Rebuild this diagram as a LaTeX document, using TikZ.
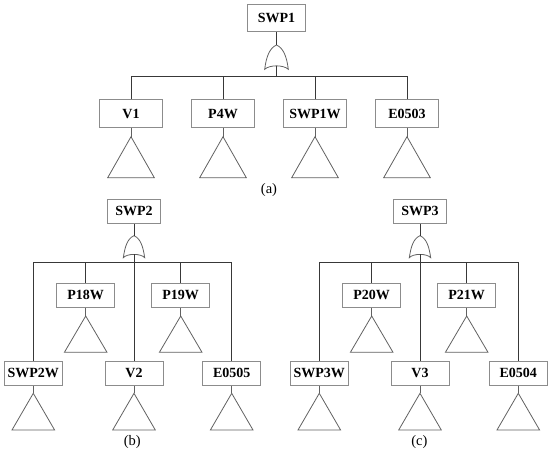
\documentclass[tikz,border=0pt]{standalone}
\usepackage{fontspec}
\setmainfont{Liberation Serif}
\tikzset{
  x=1pt,y=-1pt,
  wire/.style={draw=black!78,line width=0.9pt},
  thinline/.style={draw=black!62,line width=0.8pt,line join=miter},
  boxnode/.style={draw=black!45,line width=0.8pt,fill=white,minimum height=#1,inner sep=0pt,font=\fontsize{14}{14}\selectfont\bfseries},
  boxnode/.default=24pt,
  caption/.style={inner sep=0pt,font=\fontsize{14.5}{15}\selectfont}
}
% \leafbox{name}{x}{y centre}{width}{height}{text}{apex y}{half width}{base y}
\newcommand{\leafbox}[9]{%
  \node[boxnode=#5pt,minimum width=#4pt] (#1) at (#2,#3) {#6};
  \coordinate (#1-a) at (#2,#7);
  \draw[thinline] (#1.south) -- (#1-a);
  \draw[thinline] (#1-a) -- (#2-#8,#9) -- (#2+#8,#9) -- cycle;
}
% \orgate{name}{x}{apex y}{half width}{base y}{notch y}
\newcommand{\orgate}[6]{%
  \coordinate (#1-a) at (#2,#3);
  \coordinate (#1-n) at (#2,#6);
  \draw[thinline] (#2-#4,#5)
    .. controls (#2-#4+1.5,#3+12) and (#2-7,#3+3) .. (#1-a)
    .. controls (#2+7,#3+3) and (#2+#4-1.5,#3+12) .. (#2+#4,#5)
    .. controls (#2+7,#6-1) and (#2-7,#6-1) .. (#2-#4,#5) -- cycle;
}
\begin{document}
\begin{tikzpicture}
\useasboundingbox (0,0) rectangle (550,455);
% (a)
\node[boxnode=27.4pt,minimum width=58.4pt] (swpa) at (276.5,18) {SWP1};
\orgate{ga}{276.5}{45}{11.8}{69.3}{65.7}
\coordinate (ba) at (276.5,76);
\draw[wire] (swpa.south) -- (ga-a);
\draw[wire] (ga-n) -- (ba);
\leafbox{va}{131}{113.5}{63.5}{27.6}{V1}{136.7}{23.3}{177.7}
\leafbox{pa}{223}{113.5}{63.5}{27.6}{P4W}{136.7}{23.3}{177.7}
\leafbox{sa}{315}{113.5}{63.5}{27.6}{SWP1W}{136.7}{23.3}{177.7}
\leafbox{ea}{407}{113.5}{63.5}{27.6}{E0503}{136.7}{23.3}{177.7}
\foreach \c in {va,pa,sa,ea} \draw[wire] (\c.north) |- (ba);
\node[caption] (capa) at (269,190) {(a)};
% (b)
\node[boxnode=24.3pt,minimum width=53.4pt] (swpb) at (134,211.2) {SWP2};
\orgate{gb}{134}{235.7}{10.7}{257.7}{254.3}
\coordinate (bb) at (134,262);
\draw[wire] (swpb.south) -- (gb-a);
\leafbox{pb}{85.7}{295.3}{58}{24}{P18W}{316}{21.3}{352.3}
\leafbox{qb}{180.7}{295.3}{58}{24}{P19W}{316}{21.3}{352.3}
\leafbox{sb}{33.3}{373.2}{58}{24.3}{SWP2W}{393.3}{21.3}{430}
\leafbox{vb}{134}{373.2}{58}{24.3}{V2}{393.3}{21.3}{430}
\leafbox{eb}{231.7}{373.2}{58}{24.3}{E0505}{393.3}{21.3}{430}
\foreach \c in {pb,qb,sb,eb} \draw[wire] (\c.north) |- (bb);
\draw[wire] (gb-n) -- (vb.north);
\node[caption] (capb) at (132.3,441.7) {(b)};
% (c)
\node[boxnode=24.3pt,minimum width=53.4pt] (swpc) at (420,211.2) {SWP3};
\orgate{gc}{420}{235.7}{10.7}{257.7}{254.3}
\coordinate (bc) at (420,262);
\draw[wire] (swpc.south) -- (gc-a);
\leafbox{pc}{371.7}{295.3}{58}{24}{P20W}{316}{21.3}{352.3}
\leafbox{qc}{466.7}{295.3}{58}{24}{P21W}{316}{21.3}{352.3}
\leafbox{sc}{319.3}{373.2}{58}{24.3}{SWP3W}{393.3}{21.3}{430}
\leafbox{vc}{420}{373.2}{58}{24.3}{V3}{393.3}{21.3}{430}
\leafbox{ec}{518.3}{373.2}{58}{24.3}{E0504}{393.3}{21.3}{430}
\foreach \c in {pc,qc,sc,ec} \draw[wire] (\c.north) |- (bc);
\draw[wire] (gc-n) -- (vc.north);
\node[caption] (capc) at (419.3,441.7) {(c)};
\end{tikzpicture}
\end{document}
